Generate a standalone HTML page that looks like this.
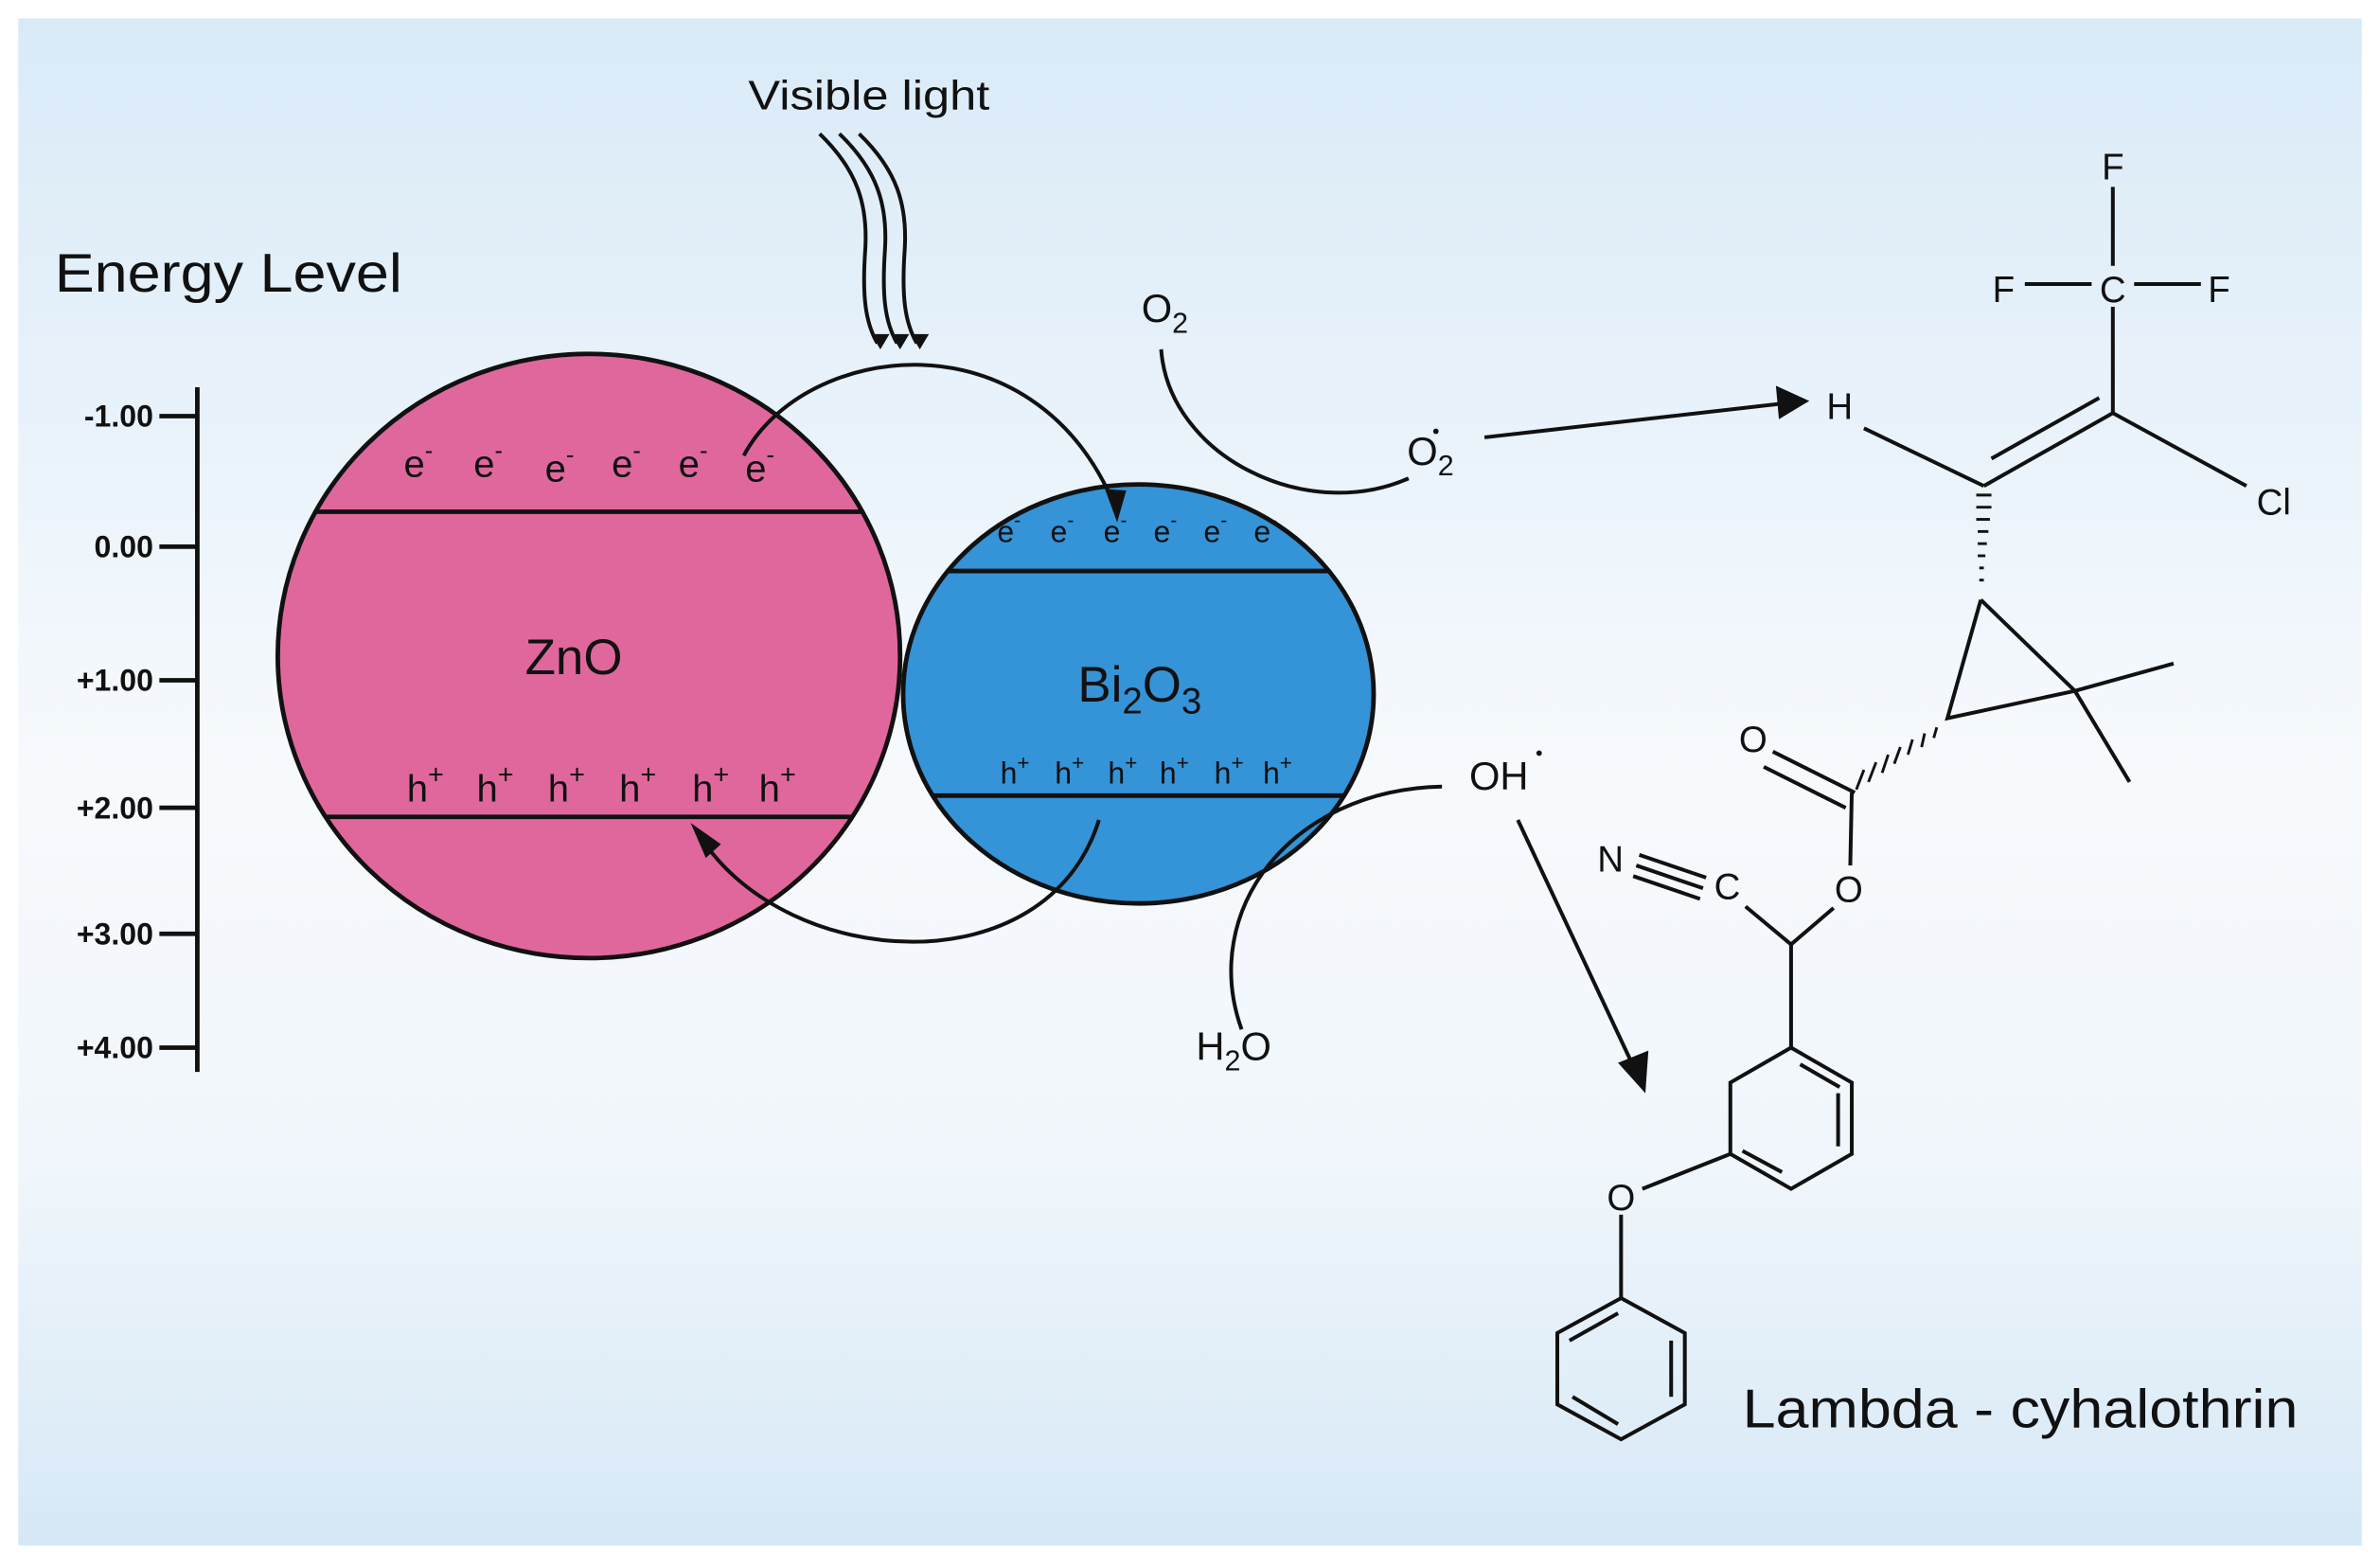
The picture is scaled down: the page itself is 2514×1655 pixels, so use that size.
<!DOCTYPE html>
<html><head><meta charset="utf-8"><style>
html,body{margin:0;padding:0;background:#fff;}
svg{display:block;}
text{font-family:"Liberation Sans",sans-serif;fill:#111;}
</style></head><body>
<svg width="2514" height="1655" viewBox="0 0 1568 1032" xmlns="http://www.w3.org/2000/svg">
<defs>
<linearGradient id="bg" x1="0" y1="0" x2="0" y2="1">
<stop offset="0" stop-color="#d9eaf7"/>
<stop offset="0.5" stop-color="#f7fafd"/>
<stop offset="0.75" stop-color="#f0f6fb"/>
<stop offset="1" stop-color="#d6e8f6"/>
</linearGradient>
<clipPath id="cz"><ellipse cx="388" cy="432" rx="205" ry="199"/></clipPath>
<clipPath id="cb"><ellipse cx="750" cy="457" rx="155" ry="138"/></clipPath>
</defs>
<rect x="0" y="0" width="1568" height="1032" fill="#fff"/>
<rect x="12" y="12" width="1544" height="1006" fill="url(#bg)"/>

<text x="36" y="192" font-size="36" textLength="229" lengthAdjust="spacingAndGlyphs">Energy Level</text>
<g stroke="#111" stroke-width="3" fill="none">
<line x1="130" y1="255" x2="130" y2="706"/>
<line x1="105" y1="274" x2="130" y2="274"/>
<line x1="105" y1="360" x2="130" y2="360"/>
<line x1="105" y1="448" x2="130" y2="448"/>
<line x1="105" y1="532" x2="130" y2="532"/>
<line x1="105" y1="615" x2="130" y2="615"/>
<line x1="105" y1="690" x2="130" y2="690"/>
</g>
<g font-size="20" font-weight="bold" text-anchor="end">
<text x="101" y="281">-1.00</text>
<text x="101" y="367">0.00</text>
<text x="101" y="455">+1.00</text>
<text x="101" y="539">+2.00</text>
<text x="101" y="622">+3.00</text>
<text x="101" y="697">+4.00</text>
</g>

<ellipse cx="388" cy="432" rx="205" ry="199" fill="#e0679c" stroke="#111" stroke-width="3"/>
<g clip-path="url(#cz)" stroke="#111" stroke-width="3">
<line x1="150" y1="337" x2="620" y2="337"/>
<line x1="150" y1="538" x2="620" y2="538"/>
</g>
<text x="378" y="444" font-size="33" text-anchor="middle">ZnO</text>
<g font-size="25">
<text x="266" y="314">e<tspan dy="-12" font-size="16">-</tspan></text>
<text x="312" y="314">e<tspan dy="-12" font-size="16">-</tspan></text>
<text x="359" y="317">e<tspan dy="-12" font-size="16">-</tspan></text>
<text x="403" y="314">e<tspan dy="-12" font-size="16">-</tspan></text>
<text x="447" y="314">e<tspan dy="-12" font-size="16">-</tspan></text>
<text x="491" y="317">e<tspan dy="-12" font-size="16">-</tspan></text>
<text x="268" y="528">h<tspan dy="-12" font-size="18">+</tspan></text>
<text x="314" y="528">h<tspan dy="-12" font-size="18">+</tspan></text>
<text x="361" y="528">h<tspan dy="-12" font-size="18">+</tspan></text>
<text x="408" y="528">h<tspan dy="-12" font-size="18">+</tspan></text>
<text x="456" y="528">h<tspan dy="-12" font-size="18">+</tspan></text>
<text x="500" y="528">h<tspan dy="-12" font-size="18">+</tspan></text>
</g>

<ellipse cx="750" cy="457" rx="155" ry="138" fill="#3593d8" stroke="#111" stroke-width="3"/>
<g clip-path="url(#cb)" stroke="#111" stroke-width="3">
<line x1="580" y1="376" x2="920" y2="376"/>
<line x1="580" y1="524" x2="920" y2="524"/>
</g>
<text x="710" y="462" font-size="33">Bi<tspan font-size="24" dy="8">2</tspan><tspan dy="-8">O</tspan><tspan font-size="24" dy="8">3</tspan></text>
<g font-size="20">
<text x="657" y="357">e<tspan dy="-10" font-size="13">-</tspan></text>
<text x="692" y="357">e<tspan dy="-10" font-size="13">-</tspan></text>
<text x="727" y="357">e<tspan dy="-10" font-size="13">-</tspan></text>
<text x="760" y="357">e<tspan dy="-10" font-size="13">-</tspan></text>
<text x="793" y="357">e<tspan dy="-10" font-size="13">-</tspan></text>
<text x="826" y="357">e<tspan dy="-10" font-size="13">-</tspan></text>
<text x="659" y="516">h<tspan dy="-9" font-size="14">+</tspan></text>
<text x="695" y="516">h<tspan dy="-9" font-size="14">+</tspan></text>
<text x="730" y="516">h<tspan dy="-9" font-size="14">+</tspan></text>
<text x="764" y="516">h<tspan dy="-9" font-size="14">+</tspan></text>
<text x="800" y="516">h<tspan dy="-9" font-size="14">+</tspan></text>
<text x="832" y="516">h<tspan dy="-9" font-size="14">+</tspan></text>
</g>

<g stroke="#111" stroke-width="2.5" fill="none">
<path d="M490,300 C530,225 680,205 734,332"/>
<path d="M724,540 C690,650 520,640 462,552"/>
<path d="M540,88 C565,112 572,135 570,165 C568,195 570,212 578,226"/>
<path d="M553,88 C578,112 585,135 583,165 C581,195 583,212 591,226"/>
<path d="M566,88 C591,112 598,135 596,165 C594,195 596,212 604,226"/>
<path d="M765,230 C770,300 860,345 928,315"/>
<line x1="978" y1="288" x2="1172" y2="266"/>
<path d="M950,518 C850,520 790,600 818,678"/>
<line x1="1000" y1="540" x2="1075" y2="700"/>
</g>
<g fill="#111">
<polygon points="736,344 728,322 742,323"/>
<polygon points="455,542 475,556 465,565"/>
<polygon points="580,230 574,220 586,220"/>
<polygon points="593,230 587,220 599,220"/>
<polygon points="606,230 600,220 612,220"/>
<polygon points="1192,264 1170,254 1172,276"/>
<polygon points="1084,720 1066,700 1086,692"/>
</g>
<text x="493" y="72" font-size="27" textLength="159" lengthAdjust="spacingAndGlyphs">Visible light</text>
<text x="752" y="212" font-size="26">O<tspan font-size="19" dy="7">2</tspan></text>
<text x="927" y="306" font-size="26">O<tspan font-size="19" dy="7">2</tspan></text>
<circle cx="946" cy="284" r="1.8" fill="#111"/>
<text x="968" y="520" font-size="26">OH</text>
<circle cx="1014" cy="496" r="1.8" fill="#111"/>
<text x="788" y="698" font-size="26">H<tspan font-size="19" dy="7">2</tspan><tspan dy="-7">O</tspan></text>

<g font-size="24" text-anchor="middle">
<text x="1392" y="118">F</text>
<text x="1392" y="199">C</text>
<text x="1320" y="199">F</text>
<text x="1462" y="199">F</text>
<text x="1212" y="276">H</text>
<text x="1498" y="339">Cl</text>
<text x="1155" y="495">O</text>
<text x="1218" y="594">O</text>
<text x="1061" y="574">N</text>
<text x="1138" y="592">C</text>
<text x="1068" y="797">O</text>
</g>
<g stroke="#111" stroke-width="2.5" fill="none">
<line x1="1392" y1="123" x2="1392" y2="175"/>
<line x1="1334" y1="187" x2="1378" y2="187"/>
<line x1="1406" y1="187" x2="1450" y2="187"/>
<line x1="1392" y1="202" x2="1392" y2="272"/>
<line x1="1228" y1="282" x2="1307" y2="320"/>
<line x1="1307" y1="320" x2="1392" y2="272"/>
<line x1="1312" y1="302" x2="1383" y2="262"/>
<line x1="1392" y1="272" x2="1480" y2="320"/>
<polyline points="1305,395 1283,473 1367,455 1305,395"/>
<line x1="1367" y1="455" x2="1432" y2="437"/>
<line x1="1367" y1="455" x2="1403" y2="515"/>
<line x1="1222" y1="522" x2="1168" y2="495"/>
<line x1="1216" y1="532" x2="1162" y2="505"/>
<line x1="1220" y1="522" x2="1219" y2="570"/>
<line x1="1208" y1="598" x2="1180" y2="622"/>
<line x1="1180" y1="622" x2="1150" y2="597"/>
<line x1="1080" y1="563" x2="1124" y2="578"/>
<line x1="1078" y1="570" x2="1122" y2="585"/>
<line x1="1076" y1="577" x2="1120" y2="592"/>
<line x1="1180" y1="622" x2="1180" y2="690"/>
<polygon points="1180,690 1220,713 1220,760 1180,783 1140,760 1140,713"/>
<line x1="1186" y1="701" x2="1212" y2="716"/>
<line x1="1211" y1="720" x2="1211" y2="755"/>
<line x1="1174" y1="772" x2="1148" y2="758"/>
<line x1="1140" y1="760" x2="1082" y2="783"/>
<line x1="1068" y1="800" x2="1068" y2="855"/>
<polygon points="1068,855 1110,878 1110,925 1068,948 1026,925 1026,878"/>
<line x1="1101" y1="883" x2="1101" y2="920"/>
<line x1="1034" y1="883" x2="1066" y2="865"/>
<line x1="1036" y1="920" x2="1066" y2="938"/>
</g>
<g stroke="#111" stroke-width="1.8">
<line x1="1302" y1="326" x2="1312" y2="326"/>
<line x1="1302" y1="334" x2="1312" y2="334"/>
<line x1="1302" y1="342" x2="1311" y2="342"/>
<line x1="1303" y1="350" x2="1310" y2="350"/>
<line x1="1303" y1="358" x2="1309" y2="358"/>
<line x1="1303" y1="366" x2="1308" y2="366"/>
<line x1="1304" y1="374" x2="1307" y2="374"/>
<line x1="1304" y1="382" x2="1307" y2="382"/>
<line x1="1276" y1="479" x2="1274" y2="486"/>
<line x1="1268" y1="483" x2="1266" y2="492"/>
<line x1="1260" y1="487" x2="1257" y2="497"/>
<line x1="1252" y1="492" x2="1248" y2="503"/>
<line x1="1244" y1="497" x2="1240" y2="509"/>
<line x1="1236" y1="502" x2="1231" y2="515"/>
<line x1="1228" y1="507" x2="1223" y2="520"/>
</g>
<text x="1148" y="940" font-size="36" textLength="366" lengthAdjust="spacingAndGlyphs">Lambda - cyhalothrin</text>
</svg>
</body></html>
